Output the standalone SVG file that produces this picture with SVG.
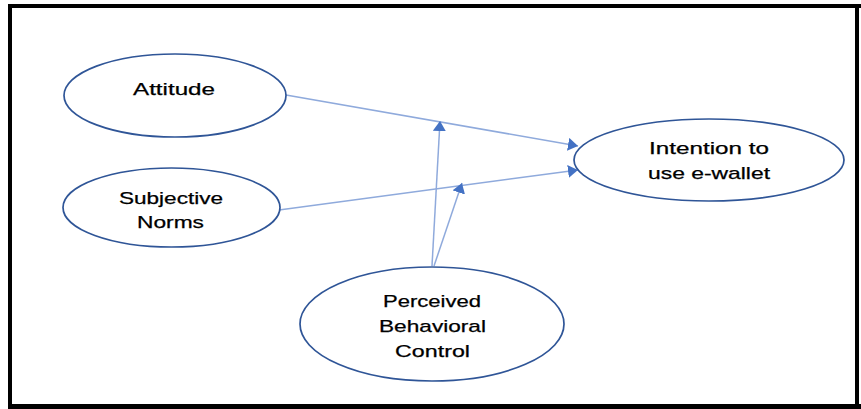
<svg xmlns="http://www.w3.org/2000/svg" width="861" height="409" viewBox="0 0 861 409">
  <style>
    .node ellipse { fill: #ffffff; stroke: #2F5597; stroke-width: 1.7; }
    .node text { font-family: "Liberation Sans", Arial, sans-serif; font-size: 17px; fill: #000000; text-anchor: middle; stroke: #000000; stroke-width: 0.25; }
    .conn line { stroke: #8FAADC; stroke-width: 1.5; fill: none; marker-end: url(#arrow); }
    .frame { fill: #000000; }
  </style>
  <defs>
    <marker id="arrow" viewBox="0 0 10 13" refX="10" refY="6.5" markerWidth="10" markerHeight="13" markerUnits="userSpaceOnUse" orient="auto">
      <path d="M0,0 L10,6.5 L0,13 z" fill="#4472C4"/>
    </marker>
  </defs>
  <rect width="861" height="409" fill="#ffffff"/>
  <g id="frame">
    <rect class="frame" x="8" y="4" width="853" height="4"/>
    <rect class="frame" x="8" y="4" width="4" height="405"/>
    <rect class="frame" x="8" y="404" width="853" height="5"/>
    <rect class="frame" x="855" y="4" width="4" height="405"/>
  </g>
  <g id="connectors" class="conn">
    <line x1="286" y1="95" x2="578" y2="146"/>
    <line x1="279" y1="210" x2="578" y2="170"/>
    <line x1="432" y1="266" x2="440" y2="121"/>
    <line x1="434" y1="266" x2="462" y2="183"/>
  </g>
  <g id="attitude" class="node">
    <ellipse cx="175" cy="95.5" rx="111" ry="41.5"/>
    <text x="174" y="95" textLength="82" lengthAdjust="spacingAndGlyphs">Attitude</text>
  </g>
  <g id="subjective-norms" class="node">
    <ellipse cx="171.5" cy="207.5" rx="108.5" ry="39.5"/>
    <text x="171" y="204" textLength="104" lengthAdjust="spacingAndGlyphs">Subjective</text>
    <text x="170.5" y="228" textLength="67" lengthAdjust="spacingAndGlyphs">Norms</text>
  </g>
  <g id="intention" class="node">
    <ellipse cx="709" cy="160" rx="135" ry="41"/>
    <text x="709" y="154" textLength="120" lengthAdjust="spacingAndGlyphs">Intention to</text>
    <text x="709" y="179" textLength="122" lengthAdjust="spacingAndGlyphs">use e-wallet</text>
  </g>
  <g id="pbc" class="node">
    <ellipse cx="432" cy="324" rx="132" ry="57"/>
    <text x="432" y="307" textLength="98" lengthAdjust="spacingAndGlyphs">Perceived</text>
    <text x="432.5" y="332" textLength="107" lengthAdjust="spacingAndGlyphs">Behavioral</text>
    <text x="432.5" y="357" textLength="75" lengthAdjust="spacingAndGlyphs">Control</text>
  </g>
</svg>
